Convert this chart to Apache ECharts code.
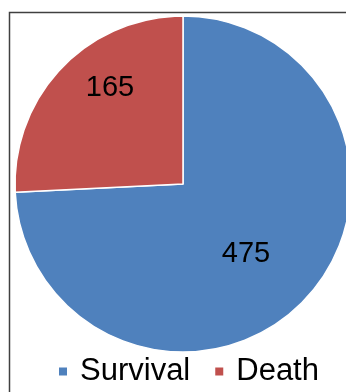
<!DOCTYPE html>
<html>
<head>
<meta charset="utf-8">
<script src="https://cdn.jsdelivr.net/npm/echarts@6/dist/echarts.min.js"></script>
<style>
html,body{margin:0;padding:0;background:#fff;}
#chart{width:346px;height:392px;}
</style>
</head>
<body>
<div id="chart"></div>
<script>
var categories = ['Survival', 'Death'];
var values = [475, 165];
var colors = ['#4F81BD', '#C0504D'];

var chart = echarts.init(document.getElementById('chart'), null, {renderer: 'canvas'});
var data = categories.map(function (c, i) {
  return { name: c, value: values[i], itemStyle: { color: colors[i] } };
});
chart.setOption({
  animation: false,
  backgroundColor: '#fff',
  graphic: [{
    type: 'rect',
    shape: { x: 9.5, y: 12.5, width: 400, height: 400 },
    style: { fill: 'none', stroke: '#404040', lineWidth: 1.5 },
    z: 100
  }],
  legend: {
    data: categories,
    left: 57,
    top: 356,
    padding: 0,
    icon: 'rect',
    itemWidth: 10,
    itemHeight: 10,
    itemGap: 23,
    textStyle: {
      fontFamily: 'Liberation Sans, Arial, sans-serif',
      fontSize: 31,
      color: '#000',
      padding: [0, 0, 0, 7]
    }
  },
  series: [{
    type: 'pie',
    center: [183, 184],
    radius: 168,
    startAngle: 90,
    clockwise: true,
    data: data,
    itemStyle: { borderColor: '#fff', borderWidth: 1.5 },
    label: {
      show: true,
      position: 'inside',
      formatter: '{c}',
      fontFamily: 'Liberation Sans, Arial, sans-serif',
      fontSize: 29,
      color: '#000'
    },
    labelLayout: function (params) {
      return params.dataIndex === 1 ? { dx: -10, dy: -36 } : { dx: 0, dy: 10 };
    },
    emphasis: { disabled: true }
  }]
});
</script>
</body>
</html>
